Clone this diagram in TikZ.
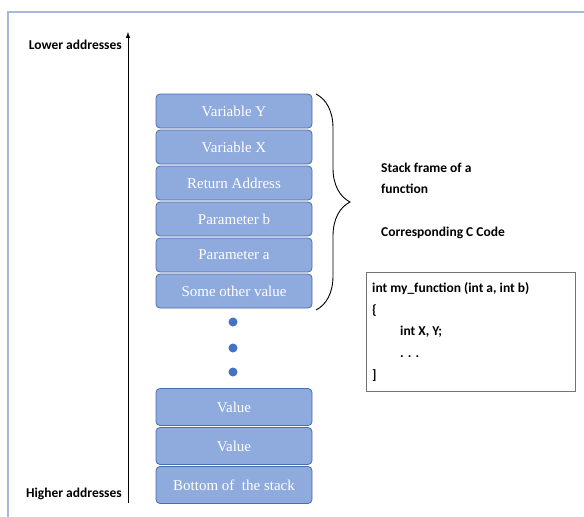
\documentclass[tikz,border=0pt]{standalone}
\usepackage{fontspec}
\setmainfont{Liberation Serif}
\newfontfamily\labelfont{Carlito}
\usetikzlibrary{positioning, decorations.pathreplacing, arrows}

\definecolor{cellfill}{HTML}{8FAADC}
\definecolor{celledge}{HTML}{4A6CAE}
\definecolor{framecol}{HTML}{A8B8D8}
\definecolor{dotcol}{HTML}{4472C4}

\begin{document}
\begin{tikzpicture}[x=1pt, y=-1pt, >=latex,
    cell/.style={draw=celledge, fill=cellfill, rounded corners=4pt, line width=0.8pt,
        minimum width=156pt, minimum height=34pt, inner sep=0pt, text=white,
        font=\fontsize{15}{17}\selectfont},
    lowcell/.style={cell, minimum height=37pt},
    lbl/.style={font=\labelfont\bfseries\fontsize{13.5}{15}\selectfont, inner sep=0pt},
    stackdot/.style={circle, fill=dotcol, inner sep=0pt, minimum size=9pt}]
    \useasboundingbox (0,0) rectangle (584,517);

    % outer frame (only top and left edge visible)
    \draw[framecol, line width=1.2pt] (8,517) -- (8,12) -- (584,12);

    % Stack frame cells
    \node[cell] (vary) at (234,111) {Variable Y};
    \node[cell] (varx) [below of=vary, node distance=36pt] {Variable X};
    \node[cell] (ret) [below of=varx, node distance=36pt] {Return Address};
    \node[cell] (parb) [below of=ret, node distance=36pt] {Parameter b};
    \node[cell] (para) [below of=parb, node distance=36pt] {Parameter a};
    \node[cell] (other) [below of=para, node distance=36pt] {Some other value};

    % Dots for the rest of the stack
    \node[stackdot] (dot1) at (233,322) {};
    \node[stackdot] (dot2) [below of=dot1, node distance=26pt] {};
    \node[stackdot] (dot3) [below of=dot2, node distance=24pt] {};

    % Bottom cells
    \node[lowcell] (val1) at (234,407) {Value};
    \node[lowcell] (val2) [below of=val1, node distance=39pt] {Value};
    \node[lowcell] (bottom) [below of=val2, node distance=39pt] {Bottom of\ \ the stack};

    % Address axis
    \coordinate (axislow) at (128,503);
    \coordinate (axishigh) at (128,32);
    \draw[->, line width=1pt] (axislow) -- (axishigh);
    \node[lbl, anchor=east] (lower) at (122,45) {Lower addresses};
    \node[lbl, anchor=east] (higher) at (122,494) {Higher addresses};

    % Brace around the stack frame
    \coordinate (bracetop) at (316,94);
    \coordinate (bracebot) at (316,310);
    \draw[line width=0.9pt, decorate, decoration={brace, amplitude=34pt, aspect=0.5}]
        (bracetop) -- (bracebot);

    \node[lbl, anchor=west] (frametxt) at (381,168) {Stack frame of a};
    \node[lbl, anchor=west] (functxt) at (381,189) {function};
    \node[lbl, anchor=west] (codetxt) at (381,233) {Corresponding C Code};

    % C code box
    \node[draw=black!55, line width=0.9pt, minimum width=209pt, minimum height=119pt,
        inner sep=0pt] (codebox) at (470.5,331.5) {};
    \node[lbl, anchor=north west, align=left, font=\labelfont\bfseries\fontsize{13.5}{21.8}\selectfont]
        (code) at (372,282) {int my\_function (int a, int b)\\
        \{\\
        \hspace*{28pt}int X, Y;\\
        \hspace*{28pt}. . .\\
        ]};
\end{tikzpicture}
\end{document}
